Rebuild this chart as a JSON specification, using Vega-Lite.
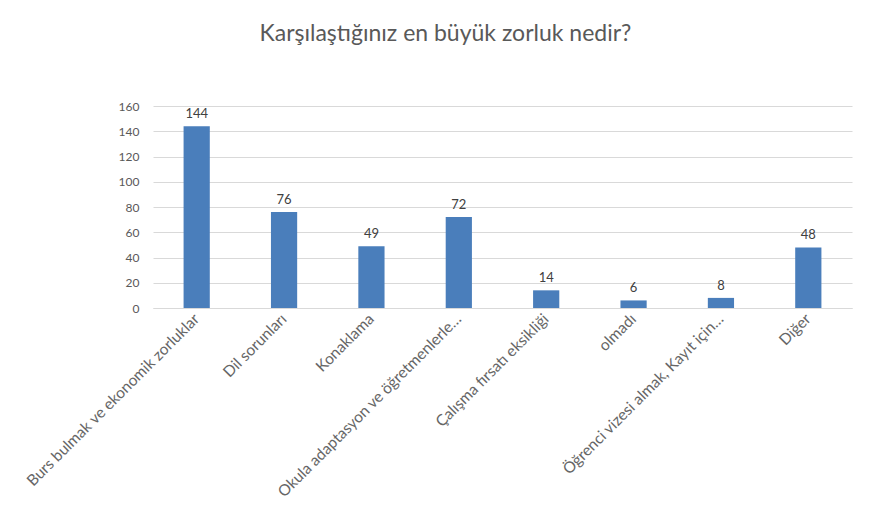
{
  "$schema": "https://vega.github.io/schema/vega-lite/v6.json",
  "width": 699,
  "height": 202,
  "autosize": {"type": "none"},
  "padding": {"left": 153, "top": 106, "right": 43, "bottom": 223},
  "background": "white",
  "title": {
    "text": "Karşılaştığınız en büyük zorluk nedir?",
    "fontSize": 23,
    "font": "Lato",
    "fontWeight": "normal",
    "color": "#595959",
    "anchor": "middle",
    "dx": -57,
    "offset": 54
  },
  "config": {
    "view": {"stroke": null},
    "font": "Lato"
  },
  "data": {
    "values": [
      {"cat": "Burs bulmak ve ekonomik zorluklar", "n": 144},
      {"cat": "Dil sorunları", "n": 76},
      {"cat": "Konaklama", "n": 49},
      {"cat": "Okula adaptasyon ve öğretmenlerle…", "n": 72},
      {"cat": "Çalışma fırsatı eksikliği", "n": 14},
      {"cat": "olmadı", "n": 6},
      {"cat": "Öğrenci vizesi almak, Kayıt için…", "n": 8},
      {"cat": "Diğer", "n": 48}
    ]
  },
  "encoding": {
    "x": {
      "field": "cat",
      "type": "nominal",
      "sort": null,
      "scale": {"paddingInner": 0.7, "paddingOuter": 0.35},
      "axis": {
        "title": null,
        "labelAngle": -45,
        "labelAlign": "right",
        "labelBaseline": "middle",
        "labelFontSize": 15.5,
        "labelColor": "#666666",
        "labelPadding": 8,
        "ticks": false,
        "domainColor": "#d9d9d9",
        "labelLimit": 400
      }
    },
    "y": {
      "field": "n",
      "type": "quantitative",
      "scale": {"domain": [0, 160]},
      "axis": {
        "title": null,
        "values": [0, 20, 40, 60, 80, 100, 120, 140, 160],
        "labelOverlap": false,
        "domain": false,
        "ticks": false,
        "gridColor": "#d9d9d9",
        "labelColor": "#595959",
        "labelFontSize": 12,
        "labelPadding": 14
      }
    }
  },
  "layer": [
    {"mark": {"type": "bar", "color": "#4a7ebb"}},
    {
      "mark": {"type": "text", "dy": -12, "fontSize": 13, "color": "#404040"},
      "encoding": {"text": {"field": "n", "type": "quantitative"}}
    }
  ]
}
